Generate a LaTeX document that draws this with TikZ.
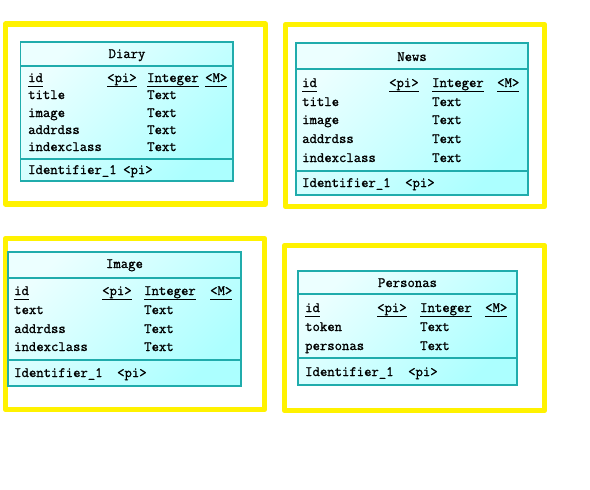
\documentclass[tikz,border=0pt]{standalone}
\usepackage{fontspec}
\newfontfamily\erfont[FakeBold=1.2]{Latin Modern Mono}
\definecolor{erline}{RGB}{32,172,172}
\definecolor{erlight}{RGB}{236,255,255}
\definecolor{erdark}{RGB}{172,255,255}
\definecolor{eryellow}{RGB}{255,242,0}
\newcommand{\erkey}[1]{\underline{\vphantom{g}#1}}
\tikzset{
  frame/.style={draw=eryellow, line width=5.5pt, line join=round},
  erbox/.style={draw=erline, line width=1.6pt, top color=erlight, bottom color=erdark, shading angle=45},
  erdiv/.style={draw=erline, line width=1.6pt},
  col/.style={anchor=base west, inner sep=0pt, font=\erfont\fontsize{14.3}{17}\selectfont},
  ttl/.style={anchor=base, inner sep=0pt, font=\erfont\fontsize{14.3}{17}\selectfont}
}
\begin{document}
\begin{tikzpicture}[x=1pt,y=-1pt]
  \useasboundingbox[fill=white] (0,0) rectangle (590,490);
  % yellow frames
  \draw[frame] (5.5,24) rectangle (265.5,204);
  \draw[frame] (285.5,24.5) rectangle (544.5,206.5);
  \draw[frame] (5.5,238.5) rectangle (264.5,409.5);
  \draw[frame] (284.5,245.5) rectangle (544.5,410.5);
  % Diary
  \draw[erbox] (20.5,42) rectangle (233,181);
  \draw[erdiv] (20.5,66) -- (233,66);
  \draw[erdiv] (20.5,159) -- (233,159);
  \node[ttl] (diary) at (127,58) {Diary};
  \node[col] (diary-id) at (28,82) {\erkey{id}};
  \node[col] (diary-pi) at (107,82) {\erkey{<pi>}};
  \node[col] (diary-int) at (147,82) {\erkey{Integer}};
  \node[col] (diary-m) at (205,82) {\erkey{<M>}};
  \foreach \y/\n in {99/title, 117/image, 134/addrdss, 151/indexclass} {
    \node[col] (diary-\n) at (28,\y) {\n};
    \node[col] (diary-\n-t) at (147,\y) {Text};
  }
  \node[col] (diary-ident) at (28,174) {Identifier\_1};
  \node[col] (diary-ident-pi) at (123,174) {<pi>};
  % News
  \draw[erbox] (296,43) rectangle (528,195);
  \draw[erdiv] (296,69) -- (528,69);
  \draw[erdiv] (296,171) -- (528,171);
  \node[ttl] (news) at (412,61) {News};
  \node[col] (news-id) at (302,87) {\erkey{id}};
  \node[col] (news-pi) at (389,87) {\erkey{<pi>}};
  \node[col] (news-int) at (432,87) {\erkey{Integer}};
  \node[col] (news-m) at (497,87) {\erkey{<M>}};
  \foreach \y/\n in {106/title, 124/image, 143/addrdss, 162/indexclass} {
    \node[col] (news-\n) at (302,\y) {\n};
    \node[col] (news-\n-t) at (432,\y) {Text};
  }
  \node[col] (news-ident) at (302,187) {Identifier\_1};
  \node[col] (news-ident-pi) at (405,187) {<pi>};
  % Image
  \draw[erbox] (8,252) rectangle (241,386);
  \draw[erdiv] (8,278) -- (241,278);
  \draw[erdiv] (8,360) -- (241,360);
  \node[ttl] (image) at (124.5,268) {Image};
  \node[col] (image-id) at (14,295) {\erkey{id}};
  \node[col] (image-pi) at (102,295) {\erkey{<pi>}};
  \node[col] (image-int) at (144,295) {\erkey{Integer}};
  \node[col] (image-m) at (210,295) {\erkey{<M>}};
  \foreach \y/\n in {314/text, 333/addrdss, 351/indexclass} {
    \node[col] (image-\n) at (14,\y) {\n};
    \node[col] (image-\n-t) at (144,\y) {Text};
  }
  \node[col] (image-ident) at (14,377) {Identifier\_1};
  \node[col] (image-ident-pi) at (117,377) {<pi>};
  % Personas
  \draw[erbox] (298,271) rectangle (517,385);
  \draw[erdiv] (298,294) -- (517,294);
  \draw[erdiv] (298,358) -- (517,358);
  \node[ttl] (personas) at (407.5,287) {Personas};
  \node[col] (personas-id) at (305,312) {\erkey{id}};
  \node[col] (personas-pi) at (377,312) {\erkey{<pi>}};
  \node[col] (personas-int) at (420,312) {\erkey{Integer}};
  \node[col] (personas-m) at (485,312) {\erkey{<M>}};
  \foreach \y/\n in {331/token, 350/personas} {
    \node[col] (personas-\n) at (305,\y) {\n};
    \node[col] (personas-\n-t) at (420,\y) {Text};
  }
  \node[col] (personas-ident) at (305,376) {Identifier\_1};
  \node[col] (personas-ident-pi) at (408,376) {<pi>};
\end{tikzpicture}
\end{document}
